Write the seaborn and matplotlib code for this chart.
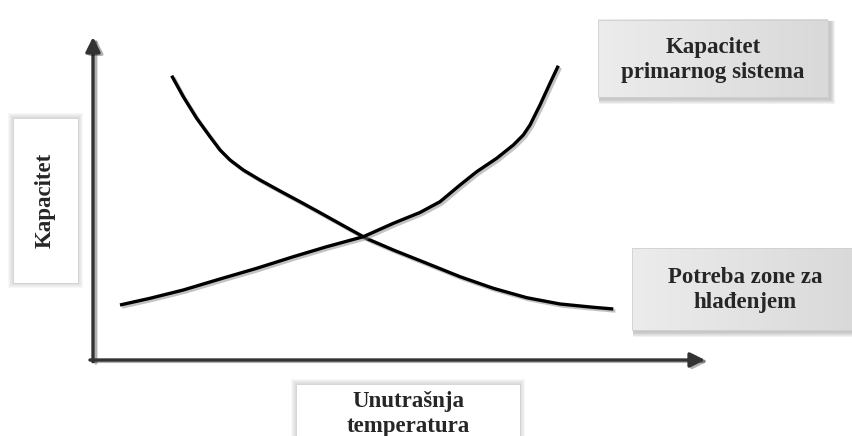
import numpy as np
import pandas as pd
import matplotlib
matplotlib.use("Agg")
import matplotlib.pyplot as plt
import matplotlib.patheffects as pe
from matplotlib.patches import Rectangle
import seaborn as sns

# curve values (x = indoor temperature, y = capacity, both in 0..100 units)
demand_x = [12.86, 14.75, 16.94, 19.12, 20.75, 22.39, 24.56, 27.29, 30.56, 33.82, 36.81,
            41.99, 44.72, 49.07, 54.53, 59.97, 65.41, 70.87, 76.31, 81.75, 85.02]
demand_y = [88.02, 81.52, 74.83, 69.13, 65.02, 61.92, 58.82, 55.73, 52.32, 49.01, 45.91,
            40.45, 37.60, 34.06, 29.94, 25.79, 22.20, 19.29, 17.34, 16.32, 15.79]
supply_x = [4.41, 9.31, 14.75, 20.75, 26.75, 32.73, 38.19, 44.17, 49.07, 53.43, 56.70,
            59.97, 62.70, 65.96, 68.68, 70.31, 71.41, 73.04, 74.67, 76.03]
supply_y = [17.03, 19.10, 21.67, 25.08, 28.39, 31.98, 35.08, 38.17, 42.32, 45.67, 49.01,
            54.18, 58.30, 62.45, 66.56, 69.66, 72.76, 78.95, 85.67, 91.11]

label_supply = "Kapacitet\nprimarnog sistema"
label_demand = "Potreba zone za\nhlađenjem"
label_x = "Unutrašnja\ntemperatura"
label_y = "Kapacitet"

sns.set_style("white")
plt.rcParams['font.family'] = ['Liberation Serif', 'DejaVu Serif']

W, H = 852, 436
fig = plt.figure(figsize=(W / 100, H / 100), dpi=100)

# overlay in pixel coords for the label boxes
bg = fig.add_axes([0, 0, 1, 1])
bg.set_xlim(0, W)
bg.set_ylim(H, 0)
bg.axis("off")


def shadow_box(x0, y0, x1, y1, light, dark, glow=False):
    # soft shadow: stack of faint rectangles
    for i in range(5, 0, -1):
        if glow:
            r = Rectangle((x0 - i, y0 - i), (x1 - x0) + 2 * i, (y1 - y0) + 2 * i,
                          facecolor="#999999", edgecolor="none", alpha=0.07, zorder=1)
        else:
            r = Rectangle((x0 + 1, y0 + 1), (x1 - x0) + i + 1, (y1 - y0) + i + 1,
                          facecolor="#777777", edgecolor="none", alpha=0.09, zorder=1)
        bg.add_patch(r)
    grad = np.linspace(0, 1, 64).reshape(1, -1)
    c0 = np.array(matplotlib.colors.to_rgb(light))
    c1 = np.array(matplotlib.colors.to_rgb(dark))
    img = c0[None, None, :] * (1 - grad[..., None]) + c1[None, None, :] * grad[..., None]
    bg.imshow(img, extent=(x0, x1, y1, y0), aspect="auto", zorder=2)
    bg.add_patch(Rectangle((x0, y0), x1 - x0, y1 - y0, facecolor="none",
                           edgecolor="#d0d0d0", lw=0.6, zorder=3))


shadow_box(598, 20, 828, 97, "#ececec", "#d9d9d9")
shadow_box(632, 248, 858, 330, "#ececec", "#d9d9d9")
shadow_box(296, 384, 520, 445, "#ffffff", "#ffffff", glow=True)
shadow_box(13, 118, 78, 283, "#ffffff", "#ffffff", glow=True)

txt = dict(fontsize=16.5, fontweight="bold", ha="center", va="center",
           linespacing=1.3, zorder=5)
bg.text(713, 60, label_supply, **txt)
bg.text(745, 290, label_demand, **txt)
bg.text(408, 414, label_x, **txt)
bg.text(45, 200, label_y, rotation=90, **txt)
bg.set_xlim(0, W)
bg.set_ylim(H, 0)

# data axes
ax = fig.add_axes([93 / W, (H - 360) / H, (705 - 93) / W, (360 - 37) / H])
ax.patch.set_alpha(0)
ax.set_xlim(0, 100)
ax.set_ylim(0, 100)

df = pd.concat([
    pd.DataFrame({"t": demand_x, "c": demand_y, "s": "demand"}),
    pd.DataFrame({"t": supply_x, "c": supply_y, "s": "supply"}),
])
shadow = [pe.SimpleLineShadow(offset=(1.5, -1.5), shadow_color="#888888", alpha=0.5),
          pe.Normal()]
sns.lineplot(data=df, x="t", y="c", hue="s", palette=["black", "black"],
             sort=False, estimator=None, lw=2.4, legend=False, ax=ax,
             path_effects=shadow)
for line in ax.lines:
    line.set_solid_capstyle("butt")
    line.set_solid_joinstyle("round")

for s in ax.spines.values():
    s.set_visible(False)
ax.set_xticks([])
ax.set_yticks([])
ax.set_xlabel("")
ax.set_ylabel("")

arrow = dict(arrowstyle="-|>", color="#333333", lw=2.4, mutation_scale=22,
             shrinkA=0, shrinkB=0,
             path_effects=[pe.SimpleLineShadow(offset=(2, -1), alpha=0.3), pe.Normal()])
ax.annotate("", xy=(0, 1), xytext=(0, -0.005), xycoords="axes fraction", arrowprops=arrow)
ax.annotate("", xy=(1, 0), xytext=(-0.005, 0), xycoords="axes fraction", arrowprops=arrow)

fig.savefig("out.png", dpi=100)
